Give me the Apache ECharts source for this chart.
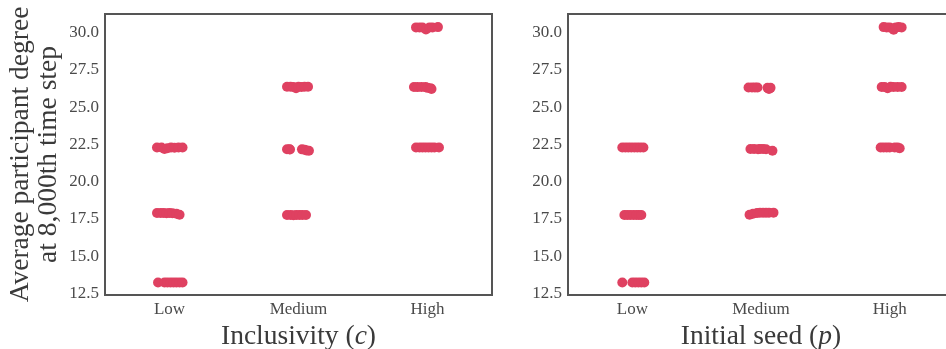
<!DOCTYPE html>
<html>
<head>
<meta charset="utf-8">
<script src="https://cdn.jsdelivr.net/npm/echarts@6/dist/echarts.min.js"></script>
<style>
html,body{margin:0;padding:0;background:#fff;}
#c{width:946px;height:349px;}
</style>
</head>
<body>
<div id="c"></div>
<script>
const categories = ['Low', 'Medium', 'High'];
const yTicks = [12.5, 15.0, 17.5, 20.0, 22.5, 25.0, 27.5, 30.0];

// Panel 1: Inclusivity (c) — jitter in category units
const inclLowJitter = [-0.097,-0.062,-0.039,-0.016,0.012,0.039,0.070,0.101,
                       -0.097,-0.070,-0.047,-0.023,0,0.023,0.054,0.078,
                       -0.089,-0.039,-0.016,0.008,0.031,0.054,0.078,0.101];
const inclLowY = [22.3,22.3,22.2,22.25,22.3,22.28,22.3,22.3,
                  17.9,17.9,17.9,17.88,17.9,17.88,17.85,17.78,
                  13.23,13.23,13.23,13.23,13.23,13.23,13.23,13.23];
const inclMedJitter = [-0.089,-0.062,-0.039,-0.019,0,0.023,0.047,0.074,
                       -0.089,-0.070,-0.066,0.027,0.047,0.062,0.081,
                       -0.089,-0.062,-0.039,-0.016,0.008,0.031,0.058];
const inclMedY = [26.38,26.38,26.36,26.28,26.38,26.36,26.38,26.38,
                  22.18,22.18,22.16,22.17,22.15,22.1,22.08,
                  17.76,17.76,17.75,17.76,17.76,17.76,17.76];
const inclHighJitter = [-0.089,-0.062,-0.039,-0.012,0.016,0.039,0.081,
                        -0.105,-0.078,-0.047,-0.016,0,0.023,0.031,
                        -0.089,-0.062,-0.039,-0.016,0.008,0.031,0.054,0.089];
const inclHighY = [30.36,30.36,30.35,30.22,30.36,30.36,30.38,
                   26.36,26.35,26.36,26.35,26.3,26.28,26.22,
                   22.3,22.3,22.3,22.3,22.3,22.3,22.3,22.3];

// Panel 2: Initial seed (p)
const seedLowJitter = [-0.078,-0.054,-0.031,-0.008,0.016,0.039,0.062,0.086,
                       -0.062,-0.039,-0.016,0.008,0.031,0.051,0.070,
                       -0.078,0,0.023,0.047,0.070,0.093];
const seedLowY = [22.3,22.3,22.3,22.3,22.3,22.3,22.3,22.3,
                  17.76,17.76,17.76,17.76,17.76,17.76,17.76,
                  13.23,13.23,13.23,13.23,13.23,13.23];
const seedMedJitter = [-0.097,-0.070,-0.047,-0.027,0.051,0.062,0.074,
                       -0.082,-0.054,-0.023,-0.008,0.016,0.039,0.089,
                       -0.089,-0.062,-0.031,-0.008,0.016,0.039,0.062,0.097];
const seedMedY = [26.33,26.33,26.33,26.33,26.3,26.22,26.3,
                  22.2,22.2,22.18,22.2,22.2,22.18,22.08,
                  17.78,17.85,17.9,17.92,17.92,17.92,17.92,17.92];
const seedHighJitter = [-0.047,-0.023,0,0.031,0.047,0.070,0.093,
                        -0.062,-0.039,-0.016,0.008,0.031,0.062,0.093,
                        -0.070,-0.047,-0.023,0,0.039,0.062,0.078];
const seedHighY = [30.38,30.36,30.36,30.2,30.36,30.38,30.36,
                   26.36,26.36,26.28,26.38,26.36,26.36,26.36,
                   22.3,22.3,22.3,22.3,22.3,22.3,22.25,22.2];

const yMin = 12.39, yMax = 31.26;
const pointColor = '#df4161';
const serif = '"Liberation Serif", "DejaVu Serif", serif';
const tickColor = '#4a4a4a';
const titleColor = '#3a3a3a';

function points(groups) {
  const out = [];
  groups.forEach(function (g, i) {
    g[0].forEach(function (j, k) { out.push([i + j, g[1][k]]); });
  });
  return out;
}

const chart = echarts.init(document.getElementById('c'), null, {renderer: 'canvas'});

function catAxis(gi, name) {
  return {
    type: 'category', gridIndex: gi, data: categories, boundaryGap: true,
    axisLine: {show: false}, axisTick: {show: false}, splitLine: {show: false},
    axisLabel: {fontFamily: serif, fontSize: 17, color: tickColor, margin: 6},
    name: name, nameLocation: 'middle', nameGap: 23,
    nameTextStyle: {
      fontFamily: serif, fontSize: 27.5, color: titleColor,
      rich: {i: {fontFamily: serif, fontSize: 27.5, fontStyle: 'italic', color: titleColor}}
    }
  };
}
function valXAxis(gi) {
  return {type: 'value', gridIndex: gi, min: -0.5, max: 2.5, show: false};
}
function yAxis(gi, name) {
  return {
    type: 'value', gridIndex: gi, min: yMin, max: yMax,
    axisLine: {show: false}, axisTick: {show: false}, splitLine: {show: false},
    axisLabel: {customValues: yTicks, formatter: function (v) { return v.toFixed(1); },
      fontFamily: serif, fontSize: 17, color: tickColor, margin: 6},
    name: name, nameLocation: 'middle', nameGap: 42, nameRotate: 90,
    nameTextStyle: {fontFamily: serif, fontSize: 27.5, color: titleColor, lineHeight: 28}
  };
}

chart.setOption({
  animation: false,
  grid: [
    {left: 105, top: 14, width: 387, height: 281, show: true, borderColor: '#555555', borderWidth: 2,
     outerBoundsMode: 'none', containLabel: false},
    {left: 568, top: 14, width: 386, height: 281, show: true, borderColor: '#555555', borderWidth: 2,
     outerBoundsMode: 'none', containLabel: false}
  ],
  xAxis: [
    catAxis(0, 'Inclusivity ({i|c})'),
    valXAxis(0),
    catAxis(1, 'Initial seed ({i|p})'),
    valXAxis(1)
  ],
  yAxis: [
    yAxis(0, 'Average participant degree\nat 8,000th time step'),
    yAxis(1, '')
  ],
  series: [
    {type: 'scatter', xAxisIndex: 1, yAxisIndex: 0, symbolSize: 10,
     itemStyle: {color: pointColor, opacity: 1},
     data: points([[inclLowJitter, inclLowY], [inclMedJitter, inclMedY], [inclHighJitter, inclHighY]])},
    {type: 'scatter', xAxisIndex: 3, yAxisIndex: 1, symbolSize: 10,
     itemStyle: {color: pointColor, opacity: 1},
     data: points([[seedLowJitter, seedLowY], [seedMedJitter, seedMedY], [seedHighJitter, seedHighY]])}
  ]
});
</script>
</body>
</html>
